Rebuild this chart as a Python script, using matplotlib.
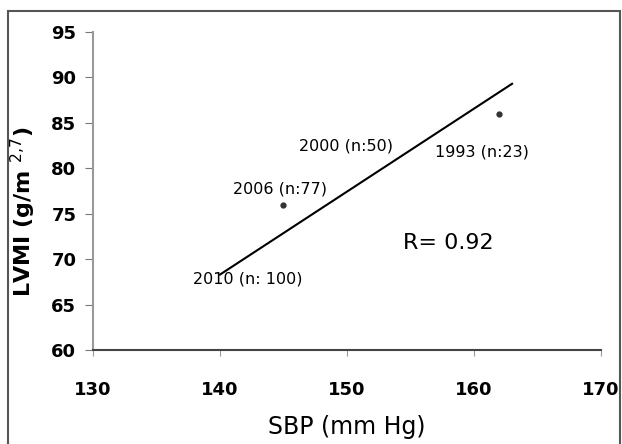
import matplotlib.pyplot as plt
from matplotlib.patches import Rectangle

# points visible in the chart
sbp = [145, 162]
lvmi = [76, 86]

# regression line ends
fit_sbp = [140, 163]
fit_lvmi = [68.3, 89.3]

labels = ["2010 (n: 100)", "2006 (n:77)", "2000 (n:50)", "1993 (n:23)"]
label_x = [142.2, 144.7, 149.9, 160.6]
label_y = [67.8, 77.7, 82.4, 81.8]

xticks = [130, 140, 150, 160, 170]
yticks = [60, 65, 70, 75, 80, 85, 90, 95]

plt.rcParams['font.family'] = ['DejaVu Sans']

fig = plt.figure(figsize=(6.22, 4.44), dpi=100)
ax = fig.add_axes([0.1495, 0.2117, 0.8167, 0.7163])

ax.plot(fit_sbp, fit_lvmi, color='black', lw=1.5)
ax.plot(sbp, lvmi, 'o', color='#333333', markersize=3.5)

for t, x, y in zip(labels, label_x, label_y):
    ax.text(x, y, t, fontsize=11.5, ha='center', va='center')

ax.text(158.0, 71.8, "R= 0.92", fontsize=16, ha='center', va='center')

ax.set_xlim(130, 170)
ax.set_ylim(60, 95)
ax.set_xticks(xticks)
ax.set_yticks(yticks)
ax.spines['top'].set_visible(False)
ax.spines['right'].set_visible(False)
ax.spines['left'].set_color('#999999')
ax.spines['left'].set_linewidth(1.5)
ax.spines['bottom'].set_color('#444444')
ax.spines['bottom'].set_linewidth(1.5)
ax.tick_params(axis='y', length=6, color='#777777', pad=6, labelsize=13)
ax.tick_params(axis='x', length=4, color='#999999', pad=18, labelsize=13)
for lab in ax.get_xticklabels() + ax.get_yticklabels():
    lab.set_fontweight('bold')

ax.set_xlabel("SBP (mm Hg)", fontsize=17, labelpad=12)
ax.set_ylabel("LVMI (g/m $^{2{,}7}$)", fontsize=16, fontweight='bold')
ax.yaxis.set_label_coords(-0.108, 0.434)

fig.patches.append(Rectangle((8 / 622, -0.1), 612 / 622, 1.1 - 11 / 444,
                             transform=fig.transFigure, fill=False,
                             edgecolor='#555555', lw=1.5))

fig.savefig("out.png", dpi=100)
